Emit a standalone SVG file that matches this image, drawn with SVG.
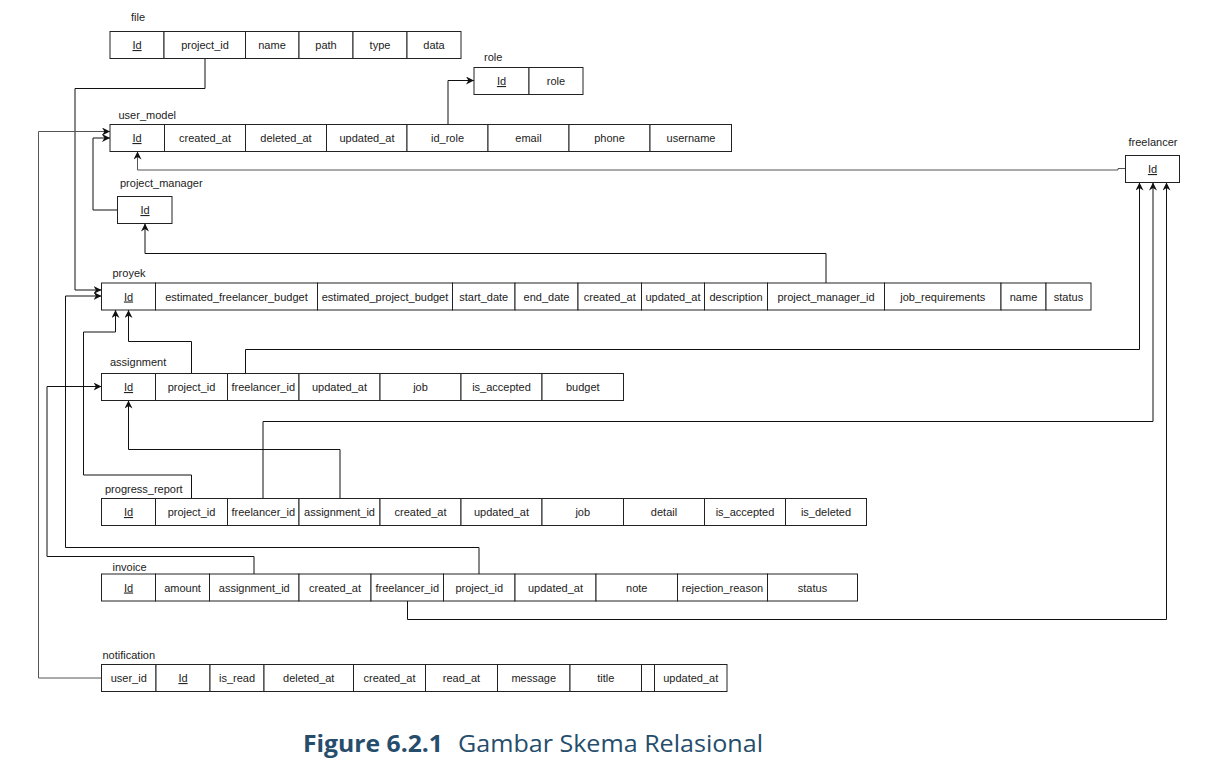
<svg xmlns="http://www.w3.org/2000/svg" width="1226" height="774" viewBox="0 0 1226 774">
<style>
.bg{fill:#ffffff}
.cell{fill:#ffffff;stroke:#222;stroke-width:1}
.t{font-family:"Liberation Sans",Arial,sans-serif;font-size:11px;fill:#222;text-anchor:middle}
.lbl{font-family:"Liberation Sans",Arial,sans-serif;font-size:11px;fill:#222}
.pk{text-decoration:underline}
.c{fill:none;stroke:#111;stroke-width:1}
.g{fill:none;stroke:#555;stroke-width:1}
.cap{font-family:"Open Sans","Noto Sans",sans-serif;font-size:24px;fill:#264d6b}
</style>
<defs>
<marker id="arr" viewBox="0 0 10 10" refX="10" refY="5" markerWidth="8" markerHeight="8" orient="auto" markerUnits="userSpaceOnUse">
<path d="M0,0 L10,5 L0,10 L3,5 z" fill="#111"/>
</marker>
</defs>
<rect class="bg" x="0" y="0" width="1226" height="774"/>

<g id="connectors">
<path class="c" d="M205,58.5 V88.5 H75 V290 H101.5" marker-end="url(#arr)"/>
<path class="c" d="M448,124.5 V80.5 H474" marker-end="url(#arr)"/>
<path class="g" d="M101.5,678 H38.5 V131.5 H110" marker-end="url(#arr)"/>
<path class="c" d="M117.5,210 H93 V138 H110" marker-end="url(#arr)"/>
<path class="g" d="M1125.5,168.5 H1118 V170 H137.5 V151.5" marker-end="url(#arr)"/>
<path class="c" d="M826,283 V253.5 H145 V223.5" marker-end="url(#arr)"/>
<path class="c" d="M191.5,373.5 V341.5 H128.5 V310" marker-end="url(#arr)"/>
<path class="c" d="M245.5,373.5 V349.5 H1139.5 V182.5" marker-end="url(#arr)"/>
<path class="c" d="M191.5,498.5 V475 H83.5 V332 H115.5 V310" marker-end="url(#arr)"/>
<path class="c" d="M340,498.5 V449.5 H128.5 V400.5" marker-end="url(#arr)"/>
<path class="c" d="M263,498.5 V421.5 H1153 V182.5" marker-end="url(#arr)"/>
<path class="c" d="M479,574 V547.5 H65.5 V296 H101.5" marker-end="url(#arr)"/>
<path class="c" d="M254,574 V556.5 H47 V386.5 H101.5" marker-end="url(#arr)"/>
<path class="c" d="M407.5,601 V619.5 H1166.5 V182.5" marker-end="url(#arr)"/>
</g>

<g id="file">
<text class="lbl" x="131" y="21">file</text>
<rect class="cell" x="110" y="31.5" width="54" height="27"/>
<rect class="cell" x="164" y="31.5" width="81.5" height="27"/>
<rect class="cell" x="245.5" y="31.5" width="53.5" height="27"/>
<rect class="cell" x="299" y="31.5" width="54" height="27"/>
<rect class="cell" x="353" y="31.5" width="54" height="27"/>
<rect class="cell" x="407" y="31.5" width="54" height="27"/>
<text class="t pk" x="137" y="49">Id</text>
<text class="t" x="205" y="49">project_id</text>
<text class="t" x="272" y="49">name</text>
<text class="t" x="326" y="49">path</text>
<text class="t" x="380" y="49">type</text>
<text class="t" x="434" y="49">data</text>
</g>

<g id="role">
<text class="lbl" x="484" y="61">role</text>
<rect class="cell" x="474" y="67.5" width="55" height="27"/>
<rect class="cell" x="529" y="67.5" width="54" height="27"/>
<text class="t pk" x="501.5" y="85">Id</text>
<text class="t" x="556" y="85">role</text>
</g>

<g id="user_model">
<text class="lbl" x="118.5" y="119">user_model</text>
<rect class="cell" x="110" y="124.5" width="54.5" height="27"/>
<rect class="cell" x="164.5" y="124.5" width="81" height="27"/>
<rect class="cell" x="245.5" y="124.5" width="81" height="27"/>
<rect class="cell" x="326.5" y="124.5" width="80.5" height="27"/>
<rect class="cell" x="407" y="124.5" width="81" height="27"/>
<rect class="cell" x="488" y="124.5" width="81" height="27"/>
<rect class="cell" x="569" y="124.5" width="81" height="27"/>
<rect class="cell" x="650" y="124.5" width="81.5" height="27"/>
<text class="t pk" x="137" y="142">Id</text>
<text class="t" x="205" y="142">created_at</text>
<text class="t" x="286" y="142">deleted_at</text>
<text class="t" x="367" y="142">updated_at</text>
<text class="t" x="447.5" y="142">id_role</text>
<text class="t" x="528.5" y="142">email</text>
<text class="t" x="609.5" y="142">phone</text>
<text class="t" x="691" y="142">username</text>
</g>

<g id="project_manager">
<text class="lbl" x="120" y="187">project_manager</text>
<rect class="cell" x="117.5" y="196.5" width="54.5" height="27"/>
<text class="t pk" x="145" y="214">Id</text>
</g>

<g id="freelancer">
<text class="lbl" x="1153" y="146" text-anchor="middle">freelancer</text>
<rect class="cell" x="1125.5" y="155.5" width="54" height="27"/>
<text class="t pk" x="1152.5" y="173">Id</text>
</g>

<g id="proyek">
<text class="lbl" x="112.5" y="277">proyek</text>
<rect class="cell" x="101.5" y="283" width="54" height="27"/>
<rect class="cell" x="155.5" y="283" width="162" height="27"/>
<rect class="cell" x="317.5" y="283" width="135" height="27"/>
<rect class="cell" x="452.5" y="283" width="62.5" height="27"/>
<rect class="cell" x="515" y="283" width="63" height="27"/>
<rect class="cell" x="578" y="283" width="63.5" height="27"/>
<rect class="cell" x="641.5" y="283" width="63" height="27"/>
<rect class="cell" x="704.5" y="283" width="63" height="27"/>
<rect class="cell" x="767.5" y="283" width="117" height="27"/>
<rect class="cell" x="884.5" y="283" width="116.5" height="27"/>
<rect class="cell" x="1001" y="283" width="45" height="27"/>
<rect class="cell" x="1046" y="283" width="45" height="27"/>
<text class="t pk" x="128.5" y="300.5">Id</text>
<text class="t" x="236.5" y="300.5">estimated_freelancer_budget</text>
<text class="t" x="385" y="300.5">estimated_project_budget</text>
<text class="t" x="483.75" y="300.5">start_date</text>
<text class="t" x="546.5" y="300.5">end_date</text>
<text class="t" x="609.75" y="300.5">created_at</text>
<text class="t" x="673" y="300.5">updated_at</text>
<text class="t" x="736" y="300.5">description</text>
<text class="t" x="826" y="300.5">project_manager_id</text>
<text class="t" x="942.75" y="300.5">job_requirements</text>
<text class="t" x="1023.5" y="300.5">name</text>
<text class="t" x="1068.5" y="300.5">status</text>
</g>

<g id="assignment">
<text class="lbl" x="110" y="366">assignment</text>
<rect class="cell" x="101.5" y="373.5" width="54" height="27"/>
<rect class="cell" x="155.5" y="373.5" width="72" height="27"/>
<rect class="cell" x="227.5" y="373.5" width="71.5" height="27"/>
<rect class="cell" x="299" y="373.5" width="81" height="27"/>
<rect class="cell" x="380" y="373.5" width="81" height="27"/>
<rect class="cell" x="461" y="373.5" width="81" height="27"/>
<rect class="cell" x="542" y="373.5" width="81.5" height="27"/>
<text class="t pk" x="128.5" y="391">Id</text>
<text class="t" x="191.5" y="391">project_id</text>
<text class="t" x="263.25" y="391">freelancer_id</text>
<text class="t" x="339.5" y="391">updated_at</text>
<text class="t" x="420.5" y="391">job</text>
<text class="t" x="501.5" y="391">is_accepted</text>
<text class="t" x="582.75" y="391">budget</text>
</g>

<g id="progress_report">
<text class="lbl" x="105" y="493">progress_report</text>
<rect class="cell" x="101.5" y="498.5" width="54" height="27"/>
<rect class="cell" x="155.5" y="498.5" width="72" height="27"/>
<rect class="cell" x="227.5" y="498.5" width="71.5" height="27"/>
<rect class="cell" x="299" y="498.5" width="81" height="27"/>
<rect class="cell" x="380" y="498.5" width="81" height="27"/>
<rect class="cell" x="461" y="498.5" width="81" height="27"/>
<rect class="cell" x="542" y="498.5" width="81.5" height="27"/>
<rect class="cell" x="623.5" y="498.5" width="81" height="27"/>
<rect class="cell" x="704.5" y="498.5" width="81" height="27"/>
<rect class="cell" x="785.5" y="498.5" width="81" height="27"/>
<text class="t pk" x="128.5" y="516">Id</text>
<text class="t" x="191.5" y="516">project_id</text>
<text class="t" x="263.25" y="516">freelancer_id</text>
<text class="t" x="339.5" y="516">assignment_id</text>
<text class="t" x="420.5" y="516">created_at</text>
<text class="t" x="501.5" y="516">updated_at</text>
<text class="t" x="582.75" y="516">job</text>
<text class="t" x="664" y="516">detail</text>
<text class="t" x="745" y="516">is_accepted</text>
<text class="t" x="826" y="516">is_deleted</text>
</g>

<g id="invoice">
<text class="lbl" x="112.5" y="571">invoice</text>
<rect class="cell" x="101.5" y="574" width="54" height="27"/>
<rect class="cell" x="155.5" y="574" width="54" height="27"/>
<rect class="cell" x="209.5" y="574" width="89.5" height="27"/>
<rect class="cell" x="299" y="574" width="72" height="27"/>
<rect class="cell" x="371" y="574" width="72.5" height="27"/>
<rect class="cell" x="443.5" y="574" width="71.5" height="27"/>
<rect class="cell" x="515" y="574" width="81" height="27"/>
<rect class="cell" x="596" y="574" width="81.5" height="27"/>
<rect class="cell" x="677.5" y="574" width="90" height="27"/>
<rect class="cell" x="767.5" y="574" width="90" height="27"/>
<text class="t pk" x="128.5" y="591.5">Id</text>
<text class="t" x="182.5" y="591.5">amount</text>
<text class="t" x="254.25" y="591.5">assignment_id</text>
<text class="t" x="335" y="591.5">created_at</text>
<text class="t" x="407.25" y="591.5">freelancer_id</text>
<text class="t" x="479.25" y="591.5">project_id</text>
<text class="t" x="555.5" y="591.5">updated_at</text>
<text class="t" x="636.75" y="591.5">note</text>
<text class="t" x="722.5" y="591.5">rejection_reason</text>
<text class="t" x="812.5" y="591.5">status</text>
</g>

<g id="notification">
<text class="lbl" x="102.5" y="659">notification</text>
<rect class="cell" x="101.5" y="664.5" width="54.5" height="27"/>
<rect class="cell" x="156" y="664.5" width="54" height="27"/>
<rect class="cell" x="210" y="664.5" width="54" height="27"/>
<rect class="cell" x="264" y="664.5" width="89.5" height="27"/>
<rect class="cell" x="353.5" y="664.5" width="72" height="27"/>
<rect class="cell" x="425.5" y="664.5" width="72" height="27"/>
<rect class="cell" x="497.5" y="664.5" width="72.5" height="27"/>
<rect class="cell" x="570" y="664.5" width="71.5" height="27"/>
<rect class="cell" x="641.5" y="664.5" width="13" height="27"/>
<rect class="cell" x="654.5" y="664.5" width="72.5" height="27"/>
<text class="t" x="128.75" y="682">user_id</text>
<text class="t pk" x="183" y="682">Id</text>
<text class="t" x="237" y="682">is_read</text>
<text class="t" x="308.75" y="682">deleted_at</text>
<text class="t" x="389.5" y="682">created_at</text>
<text class="t" x="461.5" y="682">read_at</text>
<text class="t" x="533.75" y="682">message</text>
<text class="t" x="605.75" y="682">title</text>
<text class="t" x="690.75" y="682">updated_at</text>
</g>

<g id="caption">
<text class="cap" x="303" y="752" font-weight="bold" textLength="140" lengthAdjust="spacingAndGlyphs">Figure 6.2.1</text>
<text class="cap" x="458" y="752" textLength="305" lengthAdjust="spacingAndGlyphs">Gambar Skema Relasional</text>
</g>
</svg>
